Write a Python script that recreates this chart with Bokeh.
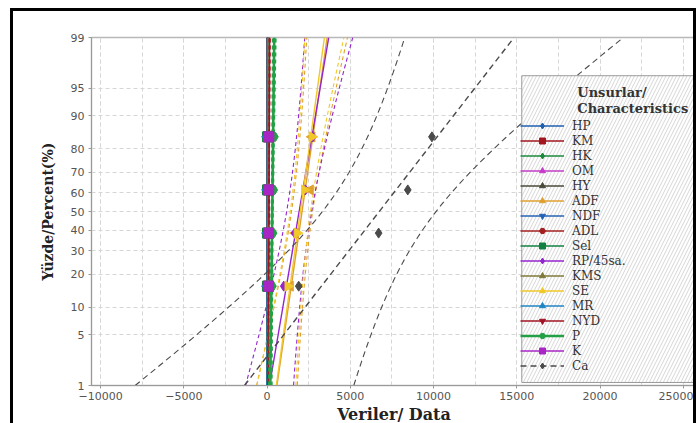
import math
from statistics import NormalDist
from bokeh.plotting import figure
from bokeh.models import FixedTicker, Legend, LegendItem, CustomJSTickFormatter
from bokeh.core.properties import value
from bokeh.embed import file_html
from bokeh.resources import INLINE

# ---------------- data ----------------
series_names = ["HP", "KM", "HK", "OM", "HY", "ADF", "NDF", "ADL", "Sel",
                "RP/45sa.", "KMS", "SE", "MR", "NYD", "P", "K", "Ca"]
hp = [8.6, 9.8, 10.9, 12.4]
km = [89.4, 90.6, 91.5, 92.8]
hk = [6.1, 7.0, 7.8, 9.1]
om = [90.9, 92.2, 93.0, 93.9]
hy = [1.7, 2.2, 2.6, 3.2]
adf = [1400, 1700, 2600, 2700]
ndf = [38.2, 41.5, 44.1, 47.6]
adl = [4.2, 4.9, 5.7, 6.5]
sel = [21.8, 24.5, 26.2, 28.9]
rp45 = [1000, 1650, 2300, 2750]
kms = [52.1, 55.8, 58.4, 61.7]
se = [1250, 1800, 2250, 2700]
mr = [12.5, 14.1, 15.6, 17.3]
nyd = [88, 104, 117, 135]
p_ = [250, 290, 330, 370]
k_ = [80, 88, 95, 104]
ca = [1900, 6700, 8450, 9900]
series_values = [hp, km, hk, om, hy, adf, ndf, adl, sel, rp45, kms, se, mr, nyd, p_, k_, ca]

pct_ticks = [1, 5, 10, 20, 30, 40, 50, 60, 70, 80, 90, 95, 99]
x_ticks = [-10000, -5000, 0, 5000, 10000, 15000, 20000, 25000]
x_minor = [-10000, -7500, -5000, -2500, 0, 2500, 5000, 7500, 10000, 12500,
           15000, 17500, 20000, 22500, 25000]

# ---------------- styles ----------------
colors = ["#1f5fb0", "#a3161f", "#1b8a3c", "#c43cc8", "#4a4a3a", "#e0a030",
          "#2463b4", "#a32020", "#128040", "#9424d0", "#7f7a3a", "#f0c828",
          "#1f86c4", "#a01424", "#23a045", "#a826c4", "#4a4a4a"]
markers = ["diamond", "square", "diamond", "triangle", "triangle", "triangle",
           "inverted_triangle", "hex", "square", "diamond", "triangle", "triangle",
           "triangle", "inverted_triangle", "hex", "square", "diamond"]
angles = [0, 0, 0, 0, -math.pi / 2, math.pi / 2, 0, 0, 0, 0, 0, -math.pi / 2,
          math.pi / 2, 0, 0, 0, 0]

nd = NormalDist()
zmin, zmax = nd.inv_cdf(0.01), nd.inv_cdf(0.99)
X0, X1 = -10545, 25790

# frame geometry in page pixels (for the legend box / legend title)
FL, FR, FT, FB = 91, 690, 37, 383
def fx(px):
    return X0 + (px - FL) / (FR - FL) * (X1 - X0)
def fy(py):
    return zmax - (py - FT) / (FB - FT) * (zmax - zmin)

p = figure(width=686, height=415, output_backend="svg", toolbar_location=None,
           x_range=(X0, X1), y_range=(zmin, zmax),
           min_border_left=78, min_border_right=3, min_border_top=26,
           min_border_bottom=40)
p.styles = {"margin-left": "10px", "margin-top": "8px",
            "border-top": "3px solid black", "border-left": "3px solid black",
            "border-right": "3px solid black"}
p.background_fill_color = "white"
p.outline_line_color = "#b8b8b8"
p.outline_line_width = 1.5

# axes
p.xaxis.ticker = FixedTicker(ticks=x_ticks, minor_ticks=x_minor)
p.yaxis.ticker = FixedTicker(ticks=[nd.inv_cdf(q / 100) for q in pct_ticks])
p.yaxis.formatter = CustomJSTickFormatter(code="""
function erf(x){const s=x<0?-1:1;x=Math.abs(x);const t=1/(1+0.3275911*x);
const y=1-(((((1.061405429*t-1.453152027)*t)+1.421413741)*t-0.284496736)*t+0.254829592)*t*Math.exp(-x*x);
return s*y;}
return String(Math.round(50*(1+erf(tick/Math.SQRT2))));
""")
for ax in (p.xaxis, p.yaxis):
    ax.axis_line_color = "#9a9a9a"
    ax.major_tick_line_color = "#9a9a9a"
    ax.major_tick_in = 0
    ax.major_tick_out = 3
    ax.minor_tick_line_color = None
    ax.major_label_text_font = "DejaVu Sans"
    ax.major_label_text_font_size = "11px"
    ax.major_label_text_color = "#555555"
    ax.axis_label_text_font = "DejaVu Serif"
    ax.axis_label_text_font_style = "bold"
    ax.axis_label_text_color = "#222222"
p.xaxis.major_label_standoff = 2
p.yaxis.major_label_standoff = 4
p.yaxis.axis_label = "Yüzde/Percent(%)"
p.yaxis.axis_label_text_font_size = "14px"
p.yaxis.axis_label_standoff = 12
p.xaxis.axis_label = "Veriler/ Data"
p.xaxis.axis_label_text_font_size = "16px"
p.xaxis.axis_label_standoff = 2

# grid
for g in (p.xgrid, p.ygrid):
    g.grid_line_color = "#d6d6d6"
    g.grid_line_dash = "4 3"
    g.grid_line_width = 1
p.xgrid.minor_grid_line_color = "#d6d6d6"
p.xgrid.minor_grid_line_dash = "4 3"

# ---------------- series ----------------
nz = 60
zs = [zmin + (zmax - zmin) * i / (nz - 1) for i in range(nz)]

# draw order of the fitted lines (so that the overlapping bands near 0 look right)
idx_k = series_names.index("K")
idx_p = series_names.index("P")
line_order = [idx_k] + [i for i in range(len(series_names)) if i not in (idx_k, idx_p)] + [idx_p]

fit_renderers = {}
for i in line_order:
    name, vals, col = series_names[i], series_values[i], colors[i]
    n = len(vals)
    m = sum(vals) / n
    s = math.sqrt(sum((a - m) ** 2 for a in vals) / (n - 1))
    is_ca = name == "Ca"
    is_p = name == "P"
    fit = p.line([m + s * zmin, m + s * zmax], [zmin, zmax], line_color=col,
                 line_width=2.6 if is_p else 1.4,
                 line_dash="6 4" if is_ca else "solid")
    fit_renderers[i] = fit
    half = [1.96 * s * math.sqrt(1 / n + z * z / (2 * n)) for z in zs]
    lo = [m + s * z - h for z, h in zip(zs, half)]
    hi = [m + s * z + h for z, h in zip(zs, half)]
    cdash = "6 4" if is_ca else "4 3"
    cw = 1.6 if is_p else 1.1
    p.line(lo, zs, line_color=col, line_width=cw, line_dash=cdash)
    p.line(hi, zs, line_color=col, line_width=cw, line_dash=cdash)

items = []
for i, (name, vals, col, mk, ang) in enumerate(zip(series_names, series_values,
                                                   colors, markers, angles)):
    n = len(vals)
    v = sorted(vals)
    ys = [nd.inv_cdf((j + 1 - 0.3) / (n + 0.4)) for j in range(n)]
    sc = p.scatter(v, ys, marker=mk, angle=ang, size=10, fill_color=col,
                   line_color=col)
    items.append(LegendItem(label=name, renderers=[fit_renderers[i], sc]))

# legend box (hatched) and title
p.quad(left=[fx(517)], right=[fx(720)], top=[fy(75)], bottom=[fy(380)],
       fill_color="white", line_color="#9a9a9a", line_width=1,
       hatch_pattern="/", hatch_color="#c4c4c4", hatch_scale=7, hatch_weight=0.7)
p.text(x=[fx(572), fx(572)], y=[fy(92), fy(108)],
       text=["Unsurlar/", "Characteristics"], text_font=value("DejaVu Serif"),
       text_font_style="bold", text_font_size="13px", text_baseline="middle",
       text_color="#333333")

legend = Legend(items=items, location=(429, 12), background_fill_alpha=0,
                border_line_color=None, padding=0, margin=0, spacing=0,
                glyph_width=44, glyph_height=15, label_height=15,
                label_standoff=8, label_text_font="DejaVu Serif",
                label_text_font_size="12px", label_text_color="#333333")
p.add_layout(legend)

open("out.html", "w").write(file_html(p, INLINE))
